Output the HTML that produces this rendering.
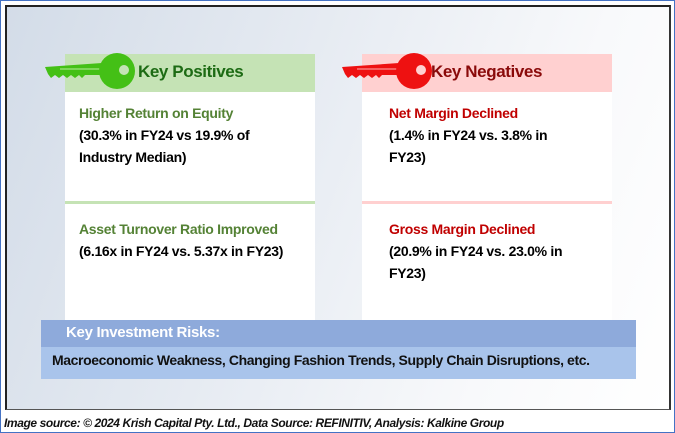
<!DOCTYPE html>
<html><head><meta charset="utf-8"><style>
body{margin:0;width:675px;height:433px;overflow:hidden;background:#fff;font-family:"Liberation Sans",sans-serif;position:relative}
.abs{position:absolute}
.t{font-weight:bold;font-size:14px;line-height:22px;letter-spacing:-0.3px}
</style></head><body>
<div class="abs" style="left:0;top:0;width:673px;height:431px;border:1px solid #4472c4"></div>
<div class="abs" style="left:5px;top:5px;width:662px;height:402px;border:2px solid #222;border-bottom:1px solid #555;border-right:2px solid #333;background:linear-gradient(110deg,#d3dce8 0%,#e6ebf2 40%,#f8f9fb 75%,#fff 100%)"></div>

<div class="abs" style="left:65px;top:54px;width:250px;height:38px;background:#c5e3b5"></div>
<div class="abs" style="left:65px;top:92px;width:250px;height:230px;background:#fff"></div>
<div class="abs" style="left:65px;top:201px;width:250px;height:3px;background:#c5e3b5"></div>
<div class="abs" style="left:362px;top:54px;width:250px;height:38px;background:#ffd0d0"></div>
<div class="abs" style="left:362px;top:92px;width:250px;height:230px;background:#fff"></div>
<div class="abs" style="left:362px;top:201px;width:250px;height:3px;background:#ffd0d0"></div>

<svg class="abs" style="left:40px;top:50px" width="100" height="45">
<path d="M5 17 L62 13 L62 25 L45 25 L42 28 L39 25 L35 28 L31 25 L27 28 L23 25 L19 28 L15 25 L11 28 L8 24 Z" fill="#44c016"/>
<line x1="20" y1="19" x2="62" y2="19" stroke="#b9ee9c" stroke-width="1"/>
<circle cx="77" cy="21" r="18" fill="#44c016"/><circle cx="84" cy="20" r="5" fill="#c5e3b5"/></svg>
<svg class="abs" style="left:337px;top:50px" width="100" height="45">
<path d="M5 17 L62 13 L62 25 L45 25 L42 28 L39 25 L35 28 L31 25 L27 28 L23 25 L19 28 L15 25 L11 28 L8 24 Z" fill="#ee1111"/>
<line x1="20" y1="19" x2="62" y2="19" stroke="#ffb0b0" stroke-width="1"/>
<circle cx="77" cy="21" r="18" fill="#ee1111"/><circle cx="84" cy="20" r="5" fill="#ffd0d0"/></svg>

<div class="abs" style="left:138px;top:62px;font-size:17px;font-weight:bold;color:#1d6b14;letter-spacing:-0.4px">Key Positives</div>
<div class="abs" style="left:431px;top:62px;font-size:17px;font-weight:bold;color:#8a0a0a;letter-spacing:-0.4px">Key Negatives</div>

<div class="abs t" style="left:79px;top:102px;width:235px"><span style="color:#548235">Higher Return on Equity</span><br>(30.3% in FY24 vs 19.9% of<br>Industry Median)</div>
<div class="abs t" style="left:79px;top:218px;width:235px"><span style="color:#548235">Asset Turnover Ratio Improved</span><br>(6.16x in FY24 vs. 5.37x in FY23)</div>
<div class="abs t" style="left:389px;top:102px;width:220px"><span style="color:#c00000">Net Margin Declined</span><br>(1.4% in FY24 vs. 3.8% in<br>FY23)</div>
<div class="abs t" style="left:389px;top:218px;width:220px"><span style="color:#c00000">Gross Margin Declined</span><br>(20.9% in FY24 vs. 23.0% in<br>FY23)</div>

<div class="abs" style="left:41px;top:320px;width:595px;height:27px;background:#8eaadb"></div>
<div class="abs" style="left:41px;top:347px;width:595px;height:32px;background:#a9c4eb"></div>
<div class="abs" style="left:66px;top:324px;font-size:15px;font-weight:bold;color:#fff;letter-spacing:-0.3px">Key Investment Risks:</div>
<div class="abs" style="left:52px;top:352px;font-size:14px;font-weight:bold;color:#111;letter-spacing:-0.4px">Macroeconomic Weakness, Changing Fashion Trends, Supply Chain Disruptions, etc.</div>

<div class="abs" style="left:4px;top:416px;font-size:12px;font-style:italic;font-weight:bold;color:#111;letter-spacing:-0.4px">Image source: © 2024 Krish Capital Pty. Ltd., Data Source: REFINITIV, Analysis: Kalkine Group</div>
</body></html>
